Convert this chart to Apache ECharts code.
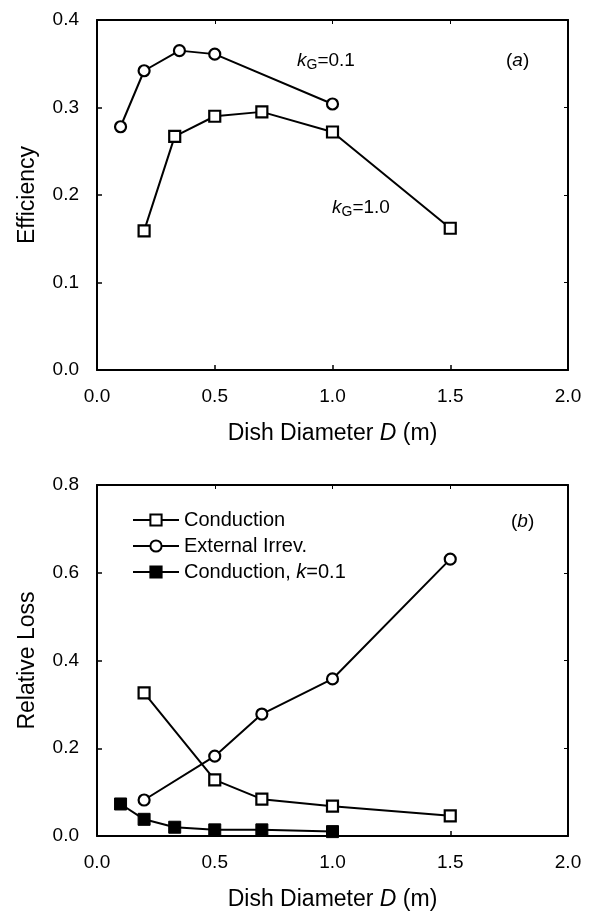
<!DOCTYPE html>
<html>
<head>
<meta charset="utf-8">
<script src="https://cdn.jsdelivr.net/npm/echarts@6/dist/echarts.min.js"></script>
<style>
  html, body { margin: 0; padding: 0; background: #fff; }
  #chart { width: 590px; height: 915px; }
</style>
</head>
<body>
<div id="chart"></div>
<script>
// panel (a): efficiency vs dish diameter
const effLowKG = [[0.1, 0.278], [0.2, 0.342], [0.35, 0.365], [0.5, 0.361], [1.0, 0.304]];
const effHighKG = [[0.2, 0.159], [0.33, 0.267], [0.5, 0.29], [0.7, 0.295], [1.0, 0.272], [1.5, 0.162]];

// panel (b): relative losses
const lossConduction = [[0.2, 0.326], [0.5, 0.128], [0.7, 0.084], [1.0, 0.068], [1.5, 0.046]];
const lossExternal = [[0.2, 0.082], [0.5, 0.182], [0.7, 0.278], [1.0, 0.358], [1.5, 0.631]];
const lossConductionK01 = [[0.1, 0.073], [0.2, 0.038], [0.33, 0.02], [0.5, 0.014], [0.7, 0.014], [1.0, 0.01]];

const legendNames = ['Conduction', 'External Irrev.', 'Conduction, k=0.1'];

const FONT = '"Liberation Sans", Arial, Helvetica, sans-serif';
const chart = echarts.init(document.getElementById('chart'));

const fmt = v => v.toFixed(1);

function xAxisMain(gridIndex) {
  return {
    type: 'value', gridIndex, min: 0, max: 2, interval: 0.5,
    name: '{n|Dish Diameter }{i|D}{n| (m)}',
    nameLocation: 'middle', nameGap: 52,
    nameTextStyle: {
      rich: {
        n: { fontFamily: FONT, fontSize: 23, color: '#000' },
        i: { fontFamily: FONT, fontSize: 23, fontStyle: 'italic', color: '#000' }
      }
    },
    axisLine: { onZero: false, lineStyle: { color: '#000', width: 2 } },
    axisTick: { inside: true, length: 5, lineStyle: { color: '#000', width: 1.5 } },
    axisLabel: { formatter: fmt, color: '#000', fontFamily: FONT, fontSize: 19, margin: 17 },
    splitLine: { show: false }
  };
}

function yAxisMain(gridIndex, max, interval, name) {
  return {
    type: 'value', gridIndex, min: 0, max, interval,
    name, nameLocation: 'middle', nameGap: 58,
    nameTextStyle: { fontFamily: FONT, fontSize: 23, color: '#000' },
    axisLine: { onZero: false, lineStyle: { color: '#000', width: 2 } },
    axisTick: { inside: true, length: 5, lineStyle: { color: '#000', width: 1.5 } },
    axisLabel: { formatter: fmt, color: '#000', fontFamily: FONT, fontSize: 19, margin: 18 },
    splitLine: { show: false }
  };
}

// plain top / right edges that close the frame
function frameAxis(kind, gridIndex, max, interval) {
  return {
    type: 'value', gridIndex, min: 0, max, interval,
    position: kind === 'x' ? 'top' : 'right',
    axisLine: { onZero: false, lineStyle: { color: '#000', width: 2 } },
    axisTick: { inside: true, length: 4, lineStyle: { color: '#000', width: 1 } },
    axisLabel: { show: false },
    splitLine: { show: false }
  };
}

const lineStyle = { color: '#000', width: 2 };
const openMark = { color: '#fff', borderColor: '#000', borderWidth: 2.2 };

const option = {
  backgroundColor: '#fff',
  animation: false,
  grid: [
    { left: 97, top: 20, width: 471, height: 350 },
    { left: 97, top: 485, width: 471, height: 351 }
  ],
  xAxis: [xAxisMain(0), xAxisMain(1), frameAxis('x', 0, 2, 0.5), frameAxis('x', 1, 2, 0.5)],
  yAxis: [
    yAxisMain(0, 0.4, 0.1, 'Efficiency'),
    yAxisMain(1, 0.8, 0.2, 'Relative Loss'),
    frameAxis('y', 0, 0.4, 0.1),
    frameAxis('y', 1, 0.8, 0.2)
  ],
  legend: {
    data: legendNames,
    orient: 'vertical',
    left: 127, top: 505,
    itemWidth: 46, itemHeight: 14, itemGap: 6,
    textStyle: {
      fontFamily: FONT, fontSize: 20, color: '#000',
      rich: {
        n: { fontFamily: FONT, fontSize: 20, color: '#000' },
        i: { fontFamily: FONT, fontSize: 20, fontStyle: 'italic', color: '#000' }
      }
    },
    formatter: name => name === 'Conduction, k=0.1'
      ? '{n|Conduction, }{i|k}{n|=0.1}'
      : '{n|' + name + '}'
  },
  graphic: [
    {
      type: 'text', left: 297, top: 50,
      style: {
        text: '{i|k}{s|G}{n|=0.1}',
        rich: {
          i: { fontFamily: FONT, fontSize: 19, fontStyle: 'italic', fill: '#000', lineHeight: 22 },
          s: { fontFamily: FONT, fontSize: 14, fill: '#000', verticalAlign: 'bottom', lineHeight: 14, padding: [8, 0, 0, 0] },
          n: { fontFamily: FONT, fontSize: 19, fill: '#000', lineHeight: 22 }
        }
      }
    },
    {
      type: 'text', left: 332, top: 197,
      style: {
        text: '{i|k}{s|G}{n|=1.0}',
        rich: {
          i: { fontFamily: FONT, fontSize: 19, fontStyle: 'italic', fill: '#000', lineHeight: 22 },
          s: { fontFamily: FONT, fontSize: 14, fill: '#000', verticalAlign: 'bottom', lineHeight: 14, padding: [8, 0, 0, 0] },
          n: { fontFamily: FONT, fontSize: 19, fill: '#000', lineHeight: 22 }
        }
      }
    },
    {
      type: 'text', left: 506, top: 51,
      style: {
        text: '{n|(}{i|a}{n|)}',
        rich: {
          n: { fontFamily: FONT, fontSize: 19, fill: '#000' },
          i: { fontFamily: FONT, fontSize: 19, fontStyle: 'italic', fill: '#000' }
        }
      }
    },
    {
      type: 'text', left: 511, top: 512,
      style: {
        text: '{n|(}{i|b}{n|)}',
        rich: {
          n: { fontFamily: FONT, fontSize: 19, fill: '#000' },
          i: { fontFamily: FONT, fontSize: 19, fontStyle: 'italic', fill: '#000' }
        }
      }
    }
  ],
  series: [
    {
      name: 'kG=0.1', type: 'line', xAxisIndex: 0, yAxisIndex: 0, data: effLowKG,
      symbol: 'circle', symbolSize: 11, lineStyle, itemStyle: openMark, z: 3
    },
    {
      name: 'kG=1.0', type: 'line', xAxisIndex: 0, yAxisIndex: 0, data: effHighKG,
      symbol: 'rect', symbolSize: 11, lineStyle, itemStyle: openMark, z: 3
    },
    {
      name: 'Conduction', type: 'line', xAxisIndex: 1, yAxisIndex: 1, data: lossConduction,
      symbol: 'rect', symbolSize: 11, lineStyle, itemStyle: openMark, z: 3
    },
    {
      name: 'External Irrev.', type: 'line', xAxisIndex: 1, yAxisIndex: 1, data: lossExternal,
      symbol: 'circle', symbolSize: 11, lineStyle, itemStyle: openMark, z: 3
    },
    {
      name: 'Conduction, k=0.1', type: 'line', xAxisIndex: 1, yAxisIndex: 1, data: lossConductionK01,
      symbol: 'rect', symbolSize: 12, lineStyle, itemStyle: { color: '#000', borderColor: '#000', borderWidth: 1 }, z: 3
    }
  ]
};

chart.setOption(option);
</script>
</body>
</html>
